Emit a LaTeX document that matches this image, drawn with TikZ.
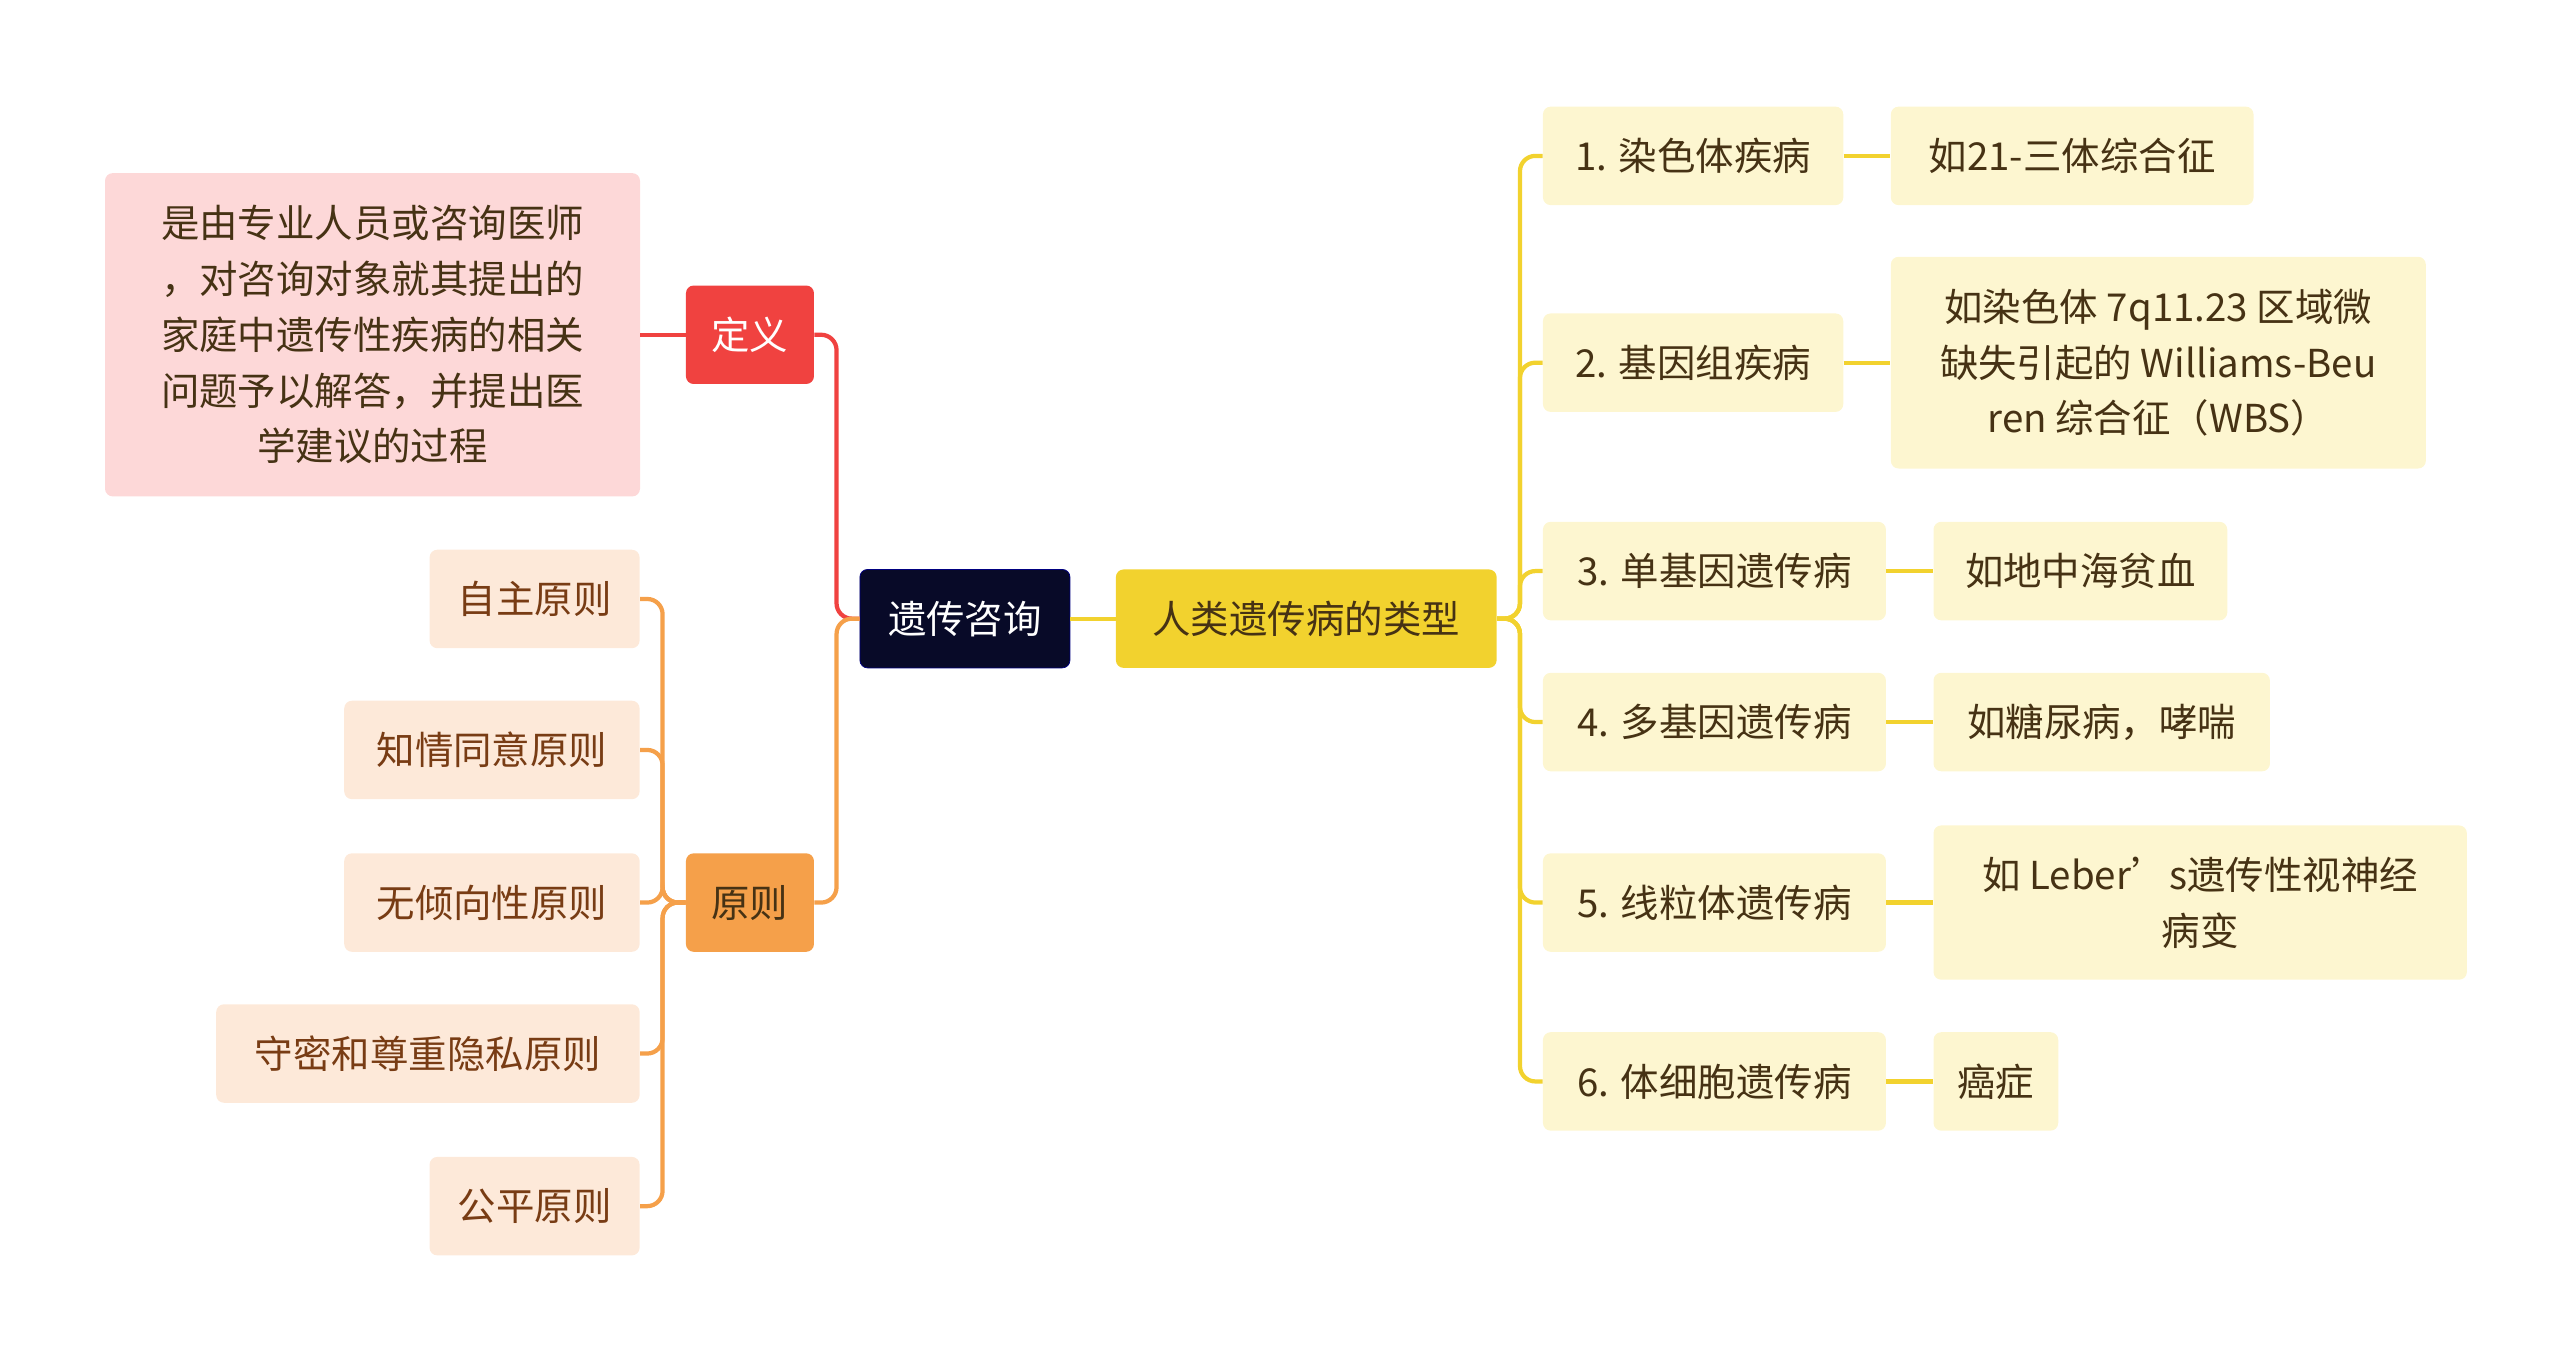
\documentclass[tikz,border=0pt]{standalone}
\usepackage{fontspec}
\setmainfont{Noto Sans CJK SC}
\usetikzlibrary{positioning}
\definecolor{RootNavy}{RGB}{8, 10, 40}
\definecolor{TypeGold}{RGB}{242, 210, 46}
\definecolor{DefRed}{RGB}{240, 66, 64}
\definecolor{RuleOrange}{RGB}{245, 160, 74}
\definecolor{DefPink}{RGB}{253, 216, 216}
\definecolor{RulePeach}{RGB}{253, 233, 217}
\definecolor{TypeCream}{RGB}{253, 246, 208}
\definecolor{RuleBrown}{RGB}{120, 60, 20}
\definecolor{TextDark}{RGB}{70, 50, 20}
\tikzset{
  box/.style={rounded corners=4pt, inner sep=0pt, align=center,
    font=\fontsize{20}{29}\selectfont},
  mainbox/.style={box, minimum height=60*0.03cm},
  rulebox/.style={box, fill=RulePeach, text=RuleBrown, minimum height=60*0.03cm, anchor=east},
  typebox/.style={box, fill=TypeCream, text=TextDark, minimum height=60*0.03cm, anchor=west},
  exbox/.style={box, fill=TypeCream, text=TextDark, minimum height=60*0.03cm, anchor=west},
  link/.style={line width=2.2pt, rounded corners=8pt},
}
\begin{document}
\begin{tikzpicture}[x=0.03cm, y=-0.03cm]
  \useasboundingbox (0,0) rectangle (1560,824);
  % centre
  \node[mainbox, fill=RootNavy, text=white, minimum width=128*0.03cm, draw=blue!50!black] (root) at (588,377) {遗传咨询};
  \node[mainbox, fill=TypeGold, text=TextDark, minimum width=232*0.03cm] (types) at (796,377) {人类遗传病的类型};
  % left side
  \node[mainbox, fill=DefRed, text=white, minimum width=78*0.03cm] (def) at (457,204) {定义};
  \node[mainbox, fill=RuleOrange, text=TextDark, minimum width=78*0.03cm] (rule) at (457,550) {原则};
  \node[box, fill=DefPink, text=TextDark, minimum width=326*0.03cm, minimum height=197*0.03cm] (deftext) at (227,204)
    {是由专业人员或咨询医师\\，对咨询对象就其提出的\\家庭中遗传性疾病的相关\\问题予以解答，并提出医\\学建议的过程};
  \node[rulebox, minimum width=128*0.03cm] (r1) at (390,365) {自主原则};
  \node[rulebox, minimum width=180*0.03cm] (r2) at (390,457) {知情同意原则};
  \node[rulebox, minimum width=180*0.03cm] (r3) at (390,550) {无倾向性原则};
  \node[rulebox, minimum width=258*0.03cm] (r4) at (390,642) {守密和尊重隐私原则};
  \node[rulebox, minimum width=128*0.03cm] (r5) at (390,735) {公平原则};
  % right side
  \node[typebox, minimum width=183*0.03cm] (t1) at (940,95) {1. 染色体疾病};
  \node[typebox, minimum width=183*0.03cm] (t2) at (940,221) {2. 基因组疾病};
  \node[typebox, minimum width=209*0.03cm] (t3) at (940,348) {3. 单基因遗传病};
  \node[typebox, minimum width=209*0.03cm] (t4) at (940,440) {4. 多基因遗传病};
  \node[typebox, minimum width=209*0.03cm] (t5) at (940,550) {5. 线粒体遗传病};
  \node[typebox, minimum width=209*0.03cm] (t6) at (940,659) {6. 体细胞遗传病};
  \node[exbox, minimum width=221*0.03cm] (e1) at (1152,95) {如21-三体综合征};
  \node[exbox, minimum width=326*0.03cm, minimum height=129*0.03cm] (e2) at (1152,221) {如染色体 7q11.23 区域微\\缺失引起的 Williams-Beu\\ren 综合征（WBS）};
  \node[exbox, minimum width=179*0.03cm] (e3) at (1178,348) {如地中海贫血};
  \node[exbox, minimum width=205*0.03cm] (e4) at (1178,440) {如糖尿病，哮喘};
  \node[exbox, minimum width=325*0.03cm, minimum height=94*0.03cm] (e5) at (1178,550) {如 Leber's遗传性视神经\\病变};
  \node[exbox, minimum width=76*0.03cm] (e6) at (1178,659) {癌症};
  % connectors
  \draw[link, DefRed] (root.west) -- ++(-14,0) |- (def.east);
  \draw[link, RuleOrange] (root.west) -- ++(-14,0) |- (rule.east);
  \draw[link, DefRed] (def.west) -- (deftext.east);
  \foreach \r in {r1,r2,r3,r4,r5}
    \draw[link, RuleOrange] (rule.west) -- ++(-14,0) |- (\r.east);
  \draw[link, TypeGold] (root.east) -- (types.west);
  \foreach \t in {t1,t2,t3,t4,t5,t6}
    \draw[link, TypeGold] (types.east) -- ++(14,0) |- (\t.west);
  \foreach \i in {1,...,6}
    \draw[link, TypeGold] (t\i.east) -- (e\i.west);
\end{tikzpicture}
\end{document}
